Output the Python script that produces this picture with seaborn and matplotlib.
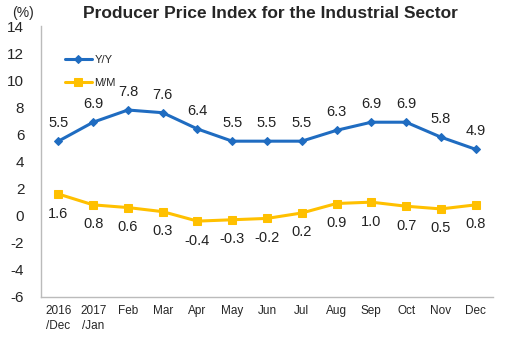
import matplotlib
matplotlib.use("Agg")
import matplotlib.pyplot as plt
import seaborn as sns
import pandas as pd
import numpy as np

categories = ["2016\n/Dec", "2017\n/Jan", "Feb", "Mar", "Apr", "May", "Jun",
              "Jul", "Aug", "Sep", "Oct", "Nov", "Dec"]
yy = [5.5, 6.9, 7.8, 7.6, 6.4, 5.5, 5.5, 5.5, 6.3, 6.9, 6.9, 5.8, 4.9]
mm = [1.6, 0.8, 0.6, 0.3, -0.4, -0.3, -0.2, 0.2, 0.9, 1.0, 0.7, 0.5, 0.8]
yticks = [-6, -4, -2, 0, 2, 4, 6, 8, 10, 12, 14]

sns.set_style("white")
plt.rcParams['font.family'] = ['Liberation Sans', 'DejaVu Sans']

df = pd.DataFrame({"x": np.arange(len(categories)), "Y/Y": yy, "M/M": mm})

fig = plt.figure(figsize=(5.05, 3.38), dpi=100)
ax = fig.add_axes([41/505, 1 - 297/338, 452/505, 271/338])

blue = "#1F6CC1"
gold = "#FFC000"
sns.lineplot(data=df, x="x", y="Y/Y", ax=ax, color=blue, marker="D", markersize=4.5,
             markeredgecolor=blue, linewidth=2.2, label="Y/Y")
sns.lineplot(data=df, x="x", y="M/M", ax=ax, color=gold, marker="s", markersize=6,
             markeredgecolor=gold, linewidth=2.2, label="M/M")

for i, v in enumerate(yy):
    ax.annotate(f"{v:.1f}", (i, v), xytext=(0, 8), textcoords="offset points",
                ha="center", va="bottom", fontsize=10.5, color="#222222")
for i, v in enumerate(mm):
    ax.annotate(f"{v:.1f}", (i, v), xytext=(0, -9), textcoords="offset points",
                ha="center", va="top", fontsize=10.5, color="#222222")

ax.set_xlim(-0.5, len(categories) - 0.5)
ax.set_ylim(-6, 14)
ax.set_yticks(yticks)
ax.set_yticklabels([str(t) for t in yticks], fontsize=11)
ax.set_xticks(np.arange(len(categories)))
ax.set_xticklabels(categories, fontsize=8.5, linespacing=1.3, va="top")
ax.set_xticks(np.arange(len(categories) + 1) - 0.5, minor=True)
ax.tick_params(axis="x", which="major", length=0, pad=6)
ax.tick_params(axis="x", which="minor", length=4, color="#BBBBBB", direction="in")
ax.tick_params(axis="y", length=4, color="#BBBBBB", direction="out", pad=8)
for lbl in ax.get_xticklabels():
    lbl.set_horizontalalignment("center")
ax.set_xlabel("")
ax.set_ylabel("")

for s in ["top", "right"]:
    ax.spines[s].set_visible(False)
for s in ["left", "bottom"]:
    ax.spines[s].set_color("#BBBBBB")
    ax.spines[s].set_linewidth(1)

leg = ax.legend(loc="upper left", bbox_to_anchor=(0.03, 0.93), frameon=False,
                fontsize=8, handlelength=2.5, labelspacing=1.2, handletextpad=0.2)

fig.text(12/505, 1 - 13/338, "(%)", fontsize=10, ha="left", va="center")
fig.text(270/505, 1 - 14/338, "Producer Price Index for the Industrial Sector",
         fontsize=12.5, fontweight="bold", ha="center", va="center")

fig.savefig("out.png", dpi=100)
